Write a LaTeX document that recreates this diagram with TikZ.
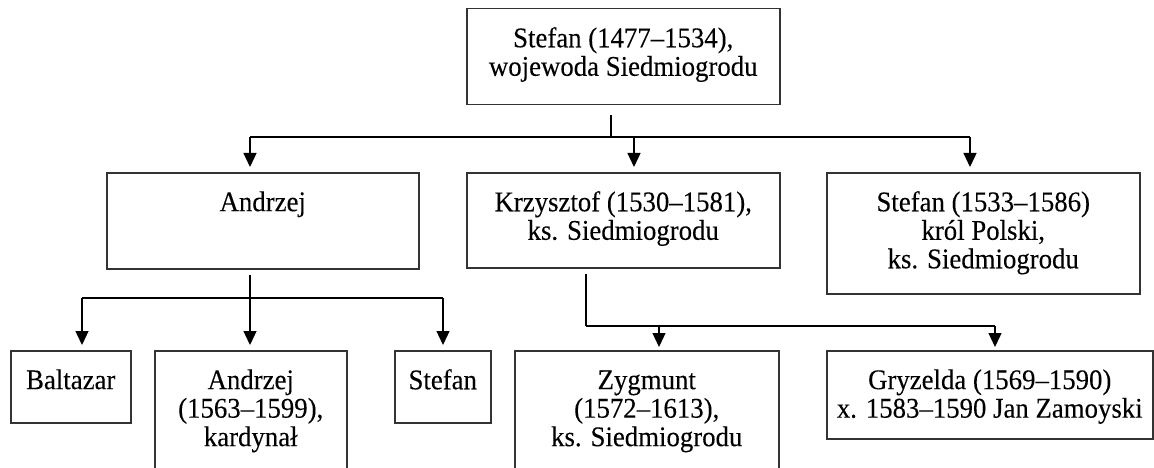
\documentclass[tikz,border=0pt]{standalone}
\usepackage{fontspec}
\setmainfont{Liberation Serif}[FakeStretch=0.94,FakeBold=0.15]
\usetikzlibrary{arrows.meta}
\tikzset{
  box/.style={draw=black!80, line width=1.5pt, rectangle, inner sep=0pt, anchor=north west},
  txt/.style={font=\fontsize{28.5}{28.5}\selectfont, align=center, inner sep=0pt, anchor=north},
  conn/.style={line width=1.3pt, black},
  arr/.style={conn, -{Triangle[length=14pt,width=13pt]}},
}
\begin{document}
\begin{tikzpicture}[x=1pt,y=-1pt]
\useasboundingbox (0,0) rectangle (1154,468);
\clip (0,0) rectangle (1154,468);
\fill[white] (0,0) rectangle (1154,468);
% boxes
\node[box, minimum width=313pt, minimum height=96pt] (top) at (466,8) {};
\node[box, minimum width=312pt, minimum height=96pt] (andrzejM) at (106,172) {};
\node[box, minimum width=313pt, minimum height=95pt] (krzysztof) at (466,172) {};
\node[box, minimum width=313pt, minimum height=121pt] (stefanK) at (826,172) {};
\node[box, minimum width=120pt, minimum height=72pt] (baltazar) at (10,350) {};
\node[box, minimum width=192pt, minimum height=140pt] (andrzej2) at (154,350) {};
\node[box, minimum width=96pt, minimum height=72pt] (stefanS) at (394,350) {};
\node[box, minimum width=264pt, minimum height=140pt] (zygmunt) at (514,350) {};
\node[box, minimum width=326pt, minimum height=88pt] (gryzelda) at (826,350) {};
% texts
\node[txt] (topT) at ([yshift=-19pt]top.north) {\strut Stefan (1477–1534),\\\strut wojewoda Siedmiogrodu};
\node[txt] (andrzejMT) at ([yshift=-19pt]andrzejM.north) {\strut Andrzej};
\node[txt] (krzysztofT) at ([yshift=-19pt]krzysztof.north) {\strut Krzysztof (1530–1581),\\\strut ks. Siedmiogrodu};
\node[txt] (stefanKT) at ([yshift=-19pt]stefanK.north) {\strut Stefan (1533–1586)\\\strut król Polski,\\\strut ks. Siedmiogrodu};
\node[txt] (baltazarT) at ([yshift=-19pt]baltazar.north) {\strut Baltazar};
\node[txt] (andrzej2T) at ([yshift=-19pt]andrzej2.north) {\strut Andrzej\\\strut (1563–1599),\\\strut kardynał};
\node[txt] (stefanST) at ([yshift=-19pt]stefanS.north) {\strut Stefan};
\node[txt] (zygmuntT) at ([yshift=-19pt]zygmunt.north) {\strut Zygmunt\\\strut (1572–1613),\\\strut ks. Siedmiogrodu};
\node[txt] (gryzeldaT) at ([yshift=-19pt]gryzelda.north) {\strut Gryzelda (1569–1590)\\\strut x. 1583–1590 Jan Zamoyski};
% junction coordinates
\coordinate (b1S) at (611,137);
\coordinate (b1L) at (250,137);
\coordinate (b1M) at (634,137);
\coordinate (b1R) at (970,137);
\coordinate (b2L) at (82,298);
\coordinate (b2M) at (250,298);
\coordinate (b2R) at (443,298);
\coordinate (b3L) at (586,326);
\coordinate (b3M) at (659,326);
\coordinate (b3R) at (995,326);
% connectors: level 1
\draw[conn, shorten <=10pt] (top.south -| b1S) -- (b1S);
\draw[conn] (b1L) -- (b1R);
\draw[arr, shorten >=5pt] (b1L) -- (b1L |- andrzejM.north);
\draw[arr, shorten >=5pt] (b1M) -- (b1M |- krzysztof.north);
\draw[arr, shorten >=5pt] (b1R) -- (b1R |- stefanK.north);
% connectors: Andrzej's children
\draw[conn, shorten <=5pt] (andrzejM.south -| b2M) -- (b2M);
\draw[conn] (b2L) -- (b2R);
\draw[arr, shorten >=5pt] (b2L) -- (b2L |- baltazar.north);
\draw[arr, shorten >=5pt] (b2M) -- (b2M |- andrzej2.north);
\draw[arr, shorten >=5pt] (b2R) -- (b2R |- stefanS.north);
% connectors: Krzysztof's children
\draw[conn, shorten <=5pt] (krzysztof.south -| b3L) -- (b3L);
\draw[conn] (b3L) -- (b3R);
\draw[arr, shorten >=3pt] (b3M) -- (b3M |- zygmunt.north);
\draw[arr, shorten >=3pt] (b3R) -- (b3R |- gryzelda.north);
\end{tikzpicture}
\end{document}
